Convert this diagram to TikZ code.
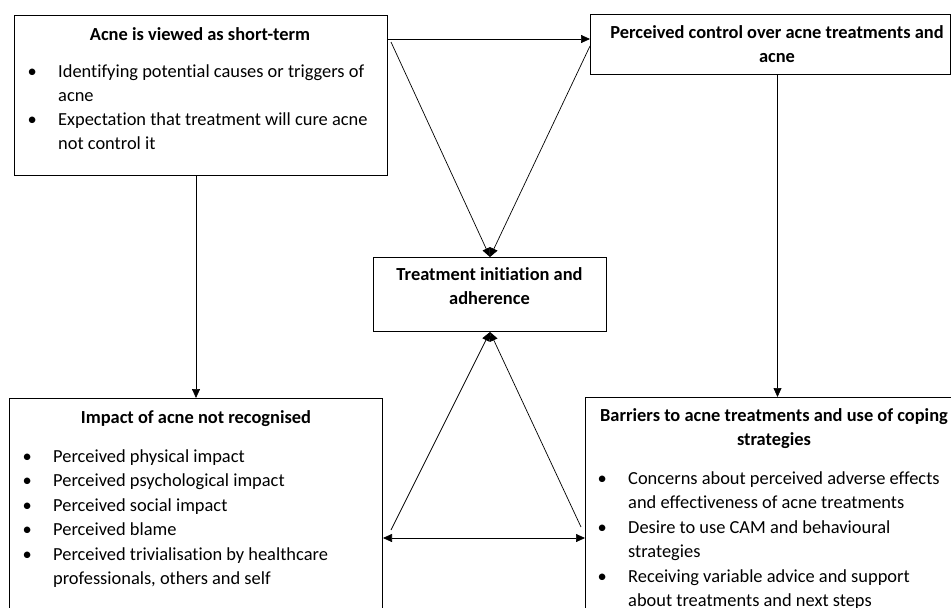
\documentclass[tikz,border=0pt]{standalone}
\usepackage{fontspec}
\setmainfont{Carlito}[Ligatures=NoCommon]
\usetikzlibrary{arrows.meta,calc}
\newlength\reflen
\newcommand\bi[1]{\makebox[0pt]{\textbullet}\hspace*{26pt}#1}
\newcommand\ci[1]{\hspace*{26pt}#1}
\begin{document}
\settowidth\reflen{\fontsize{10pt}{12pt}\selectfont Identifying potential causes or triggers of}%
\pgfmathsetmacro\fsz{10*306/\reflen}%
\begin{tikzpicture}[x=1pt,y=-1pt,
  box/.style={draw=black, line width=1pt, inner sep=0pt, anchor=north west},
  txt/.style={inner sep=0pt, anchor=base},
  lst/.style={inner sep=0pt, anchor=base west},
  arr/.style={-{Triangle[length=9pt,width=8pt]}, line width=0.7pt},
  darr/.style={{Triangle[length=9pt,width=8pt]}-{Triangle[length=9pt,width=8pt]}, line width=0.7pt}]
\def\fa{\fontsize{\fsz pt}{24pt}\selectfont}
\def\fb{\fontsize{\fsz pt}{24.5pt}\selectfont}
\useasboundingbox (0,0) rectangle (951,608);
\clip (0,0) rectangle (951,608);
% boxes
\node[box, minimum width=373pt, minimum height=160pt] (A) at (14,15) {};
\node[box, minimum width=360pt, minimum height=60pt] (B) at (590,14) {};
\node[box, minimum width=233pt, minimum height=74pt] (T) at (373,257) {};
\node[box, minimum width=373pt, minimum height=300pt] (C) at (9,398) {};
\node[box, minimum width=400pt, minimum height=300pt] (D) at (585,397) {};
% texts
\node[txt, font=\fa\bfseries] (At) at (200,40) {Acne is viewed as short-term};
\node[lst, font=\fa] (Al) at (32,77) {\begin{tabular}[t]{@{}l@{}}
\bi{Identifying potential causes or triggers of}\\
\ci{acne}\\
\bi{Expectation that treatment will cure acne}\\
\ci{not control it}
\end{tabular}};
\node[txt, font=\fa\bfseries] (Bt) at (777,38) {\begin{tabular}[t]{@{}c@{}}
Perceived control over acne treatments and\\ acne\end{tabular}};
\node[txt, font=\fa\bfseries] (Tt) at (489.5,280) {\begin{tabular}[t]{@{}c@{}}
Treatment initiation and\\ adherence\end{tabular}};
\node[txt, font=\fb\bfseries] (Ct) at (196,423) {Impact of acne not recognised};
\node[lst, font=\fb] (Cl) at (27,462) {\begin{tabular}[t]{@{}l@{}}
\bi{Perceived physical impact}\\
\bi{Perceived psychological impact}\\
\bi{Perceived social impact}\\
\bi{Perceived blame}\\
\bi{Perceived trivialisation by healthcare}\\
\ci{professionals, others and self}
\end{tabular}};
\node[txt, font=\fa\bfseries] (Dt) at (774,421) {\begin{tabular}[t]{@{}c@{}}
Barriers to acne treatments and use of coping\\ strategies\end{tabular}};
\node[lst, font=\fb] (Dl) at (602,484) {\begin{tabular}[t]{@{}l@{}}
\bi{Concerns about perceived adverse effects}\\
\ci{and effectiveness of acne treatments}\\
\bi{Desire to use CAM and behavioural}\\
\ci{strategies}\\
\bi{Receiving variable advice and support}\\
\ci{about treatments and next steps}
\end{tabular}};
% connector anchors
\coordinate (a1) at ([yshift=-24pt]A.north east);
\coordinate (a2) at ([shift={(3pt,-27pt)}]A.north east);
\coordinate (b1) at ([yshift=-32pt]B.north west);
\coordinate (b2) at ([xshift=7pt]B.south);
\coordinate (c1) at ([shift={(8pt,-132pt)}]C.north east);
\coordinate (c2) at ([yshift=-140pt]C.north east);
\coordinate (d1) at ([shift={(-4pt,-130pt)}]D.north west);
% connectors
\draw[arr] (a1) -- (a1 -| B.west);
\draw[arr] (a2) -- (T.north);
\draw[arr] (b1) -- (T.north);
\draw[arr] (C.north |- A.south) -- (C.north);
\draw[arr] (b2) -- (b2 |- D.north);
\draw[arr] (c1) -- (T.south);
\draw[arr] (d1) -- (T.south);
\draw[darr] (c2) -- (c2 -| D.west);
\end{tikzpicture}
\end{document}
